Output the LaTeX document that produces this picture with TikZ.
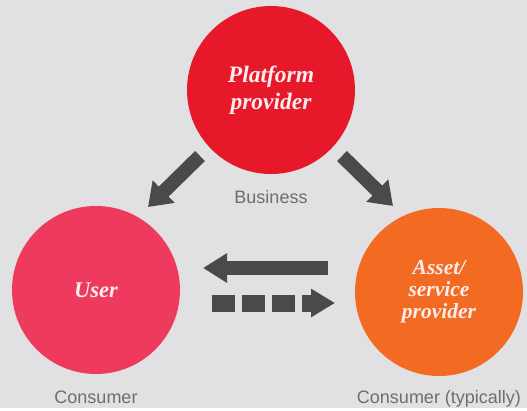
\documentclass[tikz,border=0pt]{standalone}
\usepackage{fontspec}
\setmainfont{Liberation Serif}
\setsansfont{Liberation Sans}
\usepackage{xcolor,tikz}
\usetikzlibrary{arrows.meta}

\definecolor{bggrey}{HTML}{E1E1E3}
\definecolor{platred}{HTML}{E8182B}
\definecolor{userpink}{HTML}{EE3A5C}
\definecolor{assetorange}{HTML}{F36B22}
\definecolor{arrowgrey}{HTML}{4A4A4D}
\definecolor{labelgrey}{HTML}{6E6E70}
\definecolor{circtext}{HTML}{FBEDEE}

\tikzset{
  party/.style={circle, minimum size=168pt, inner sep=0pt, align=center, text=circtext,
    font=\fontsize{23.5}{27}\selectfont\bfseries\itshape},
  role/.style={anchor=base, text=labelgrey, font=\sffamily\fontsize{18}{20}\selectfont},
  fatarrow/.style={draw=arrowgrey, line width=14pt, -{Triangle[length=22pt,width=30pt]}},
}

\begin{document}
\begin{tikzpicture}[x=1pt,y=-1pt]
          \fill[bggrey] (0,0) rectangle (527,408);
          \node[party, fill=platred] (platform) at (271,90) {Platform\\provider};
          \node[party, fill=userpink, font=\fontsize{22.5}{27}\selectfont\bfseries\itshape] (user) at (96,290) {User};
          \node[party, fill=assetorange, font=\fontsize{21.5}{22}\selectfont\bfseries\itshape] (asset) at (439,292) {Asset/\\service\\provider};
          \node[role] (business) at (271,203) {Business};
          \node[role] (consumer) at (96,403) {Consumer};
          \node[role] (consumertyp) at (439,403) {Consumer (typically)};
          % arrow ends
          \coordinate (pu1) at (200,156);
          \coordinate (pu2) at (148,207);
          \coordinate (pa1) at (342,156);
          \coordinate (pa2) at (393,206);
          \coordinate (au1) at (328,268);
          \coordinate (au2) at (203,268);
          \coordinate (ua1) at (212,303);
          \coordinate (ua2) at (335,303);
          \draw[fatarrow] (pu1) -- (pu2);
          \draw[fatarrow] (pa1) -- (pa2);
          \draw[fatarrow, -{Triangle[length=24pt,width=28pt]}] (au1) -- (au2);
          \draw[fatarrow, line width=17pt, dash pattern=on 23pt off 7pt, -{Triangle[length=24pt,width=27pt]}] (ua1) -- (ua2);
\end{tikzpicture}
\end{document}
